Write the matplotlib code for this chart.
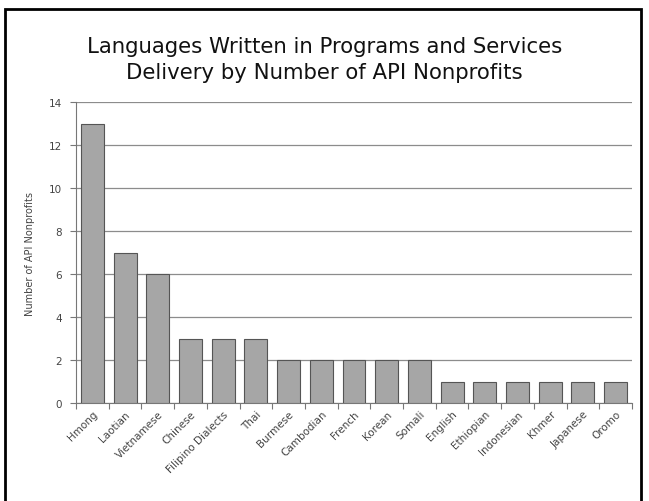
import matplotlib
matplotlib.use("Agg")
import matplotlib.pyplot as plt
from matplotlib.patches import Rectangle
import numpy as np

# --- DATA ---
languages = ["Hmong", "Laotian", "Vietnamese", "Chinese", "Filipino Dialects", "Thai",
             "Burmese", "Cambodian", "French", "Korean", "Somali", "English",
             "Ethiopian", "Indonesian", "Khmer", "Japanese", "Oromo"]
counts = [13, 7, 6, 3, 3, 3, 2, 2, 2, 2, 2, 1, 1, 1, 1, 1, 1]
y_ticks = [0, 2, 4, 6, 8, 10, 12, 14]

fig = plt.figure(figsize=(6.49, 5.02), dpi=100)

# outer black frame (bottom edge falls off the image)
fig.patches.append(Rectangle((5 / 649, -0.02), 636 / 649, (502 - 10) / 502 + 0.02,
                             transform=fig.transFigure, fill=False,
                             edgecolor="black", linewidth=2))

ax = fig.add_axes([76 / 649, (502 - 404) / 502, 556 / 649, 301 / 502])

x = np.arange(len(languages))
ax.bar(x, counts, width=0.7, color="#a6a6a6", edgecolor="#555555", linewidth=0.8, zorder=3)

ax.set_xlim(-0.5, len(languages) - 0.5)
ax.set_ylim(0, 14)
ax.set_yticks(y_ticks)
ax.set_yticklabels([str(v) for v in y_ticks], fontsize=7.5, color="#444444")
ax.yaxis.grid(True, color="#8c8c8c", linewidth=0.9, zorder=0)

ax.set_xticks(np.arange(len(languages) + 1) - 0.5)
ax.set_xticklabels([])
ax.set_xticks(x, minor=True)
ax.set_xticklabels(languages, minor=True, rotation=45, ha="right",
                   rotation_mode="anchor", fontsize=7.5, color="#444444")
ax.tick_params(axis="x", which="minor", length=0, pad=4)
ax.tick_params(axis="x", which="major", length=4, color="#777777")
ax.tick_params(axis="y", length=4, color="#777777", pad=6)

for s in ["top", "right"]:
    ax.spines[s].set_visible(False)
for s in ["left", "bottom"]:
    ax.spines[s].set_color("#777777")

ax.set_ylabel("Number of API Nonprofits", fontsize=7, color="#444444", labelpad=10)

fig.text(0.5, 1 - 60 / 502, "Languages Written in Programs and Services\nDelivery by Number of API Nonprofits",
         ha="center", va="center", fontsize=15.3, linespacing=1.4, color="#111111")

fig.savefig("out.png", dpi=100)
